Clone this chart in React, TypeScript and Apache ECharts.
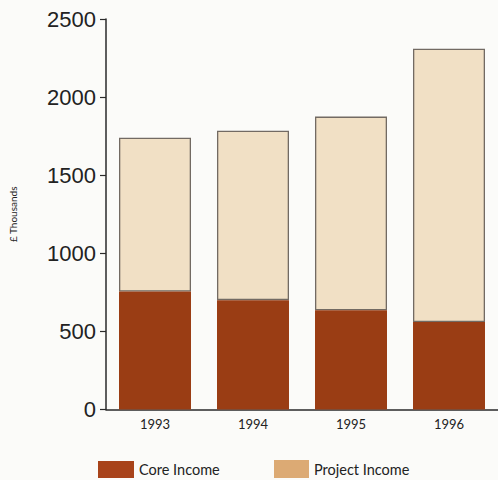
import React, { useEffect, useRef } from "react";
import * as echarts from "echarts";

const years = ["1993", "1994", "1995", "1996"];
const coreIncome = [755, 700, 635, 560];
const projectIncome = [985, 1085, 1240, 1750];
const yTicks = [0, 500, 1000, 1500, 2000, 2500];

export default function App() {
  const ref = useRef<HTMLDivElement>(null);
  useEffect(() => {
    if (!ref.current) return;
    const chart = echarts.init(ref.current, undefined, { renderer: "svg" });
    const coreColor = "#9a3d14";
    const projColor = "#f1e0c5";
    const border = "#726a63";
    chart.setOption({
      animation: false,
      backgroundColor: "#fbfbf9",
      grid: { left: 103, right: 0, top: 19, bottom: 70.5, containLabel: false },
      legend: [
        {
          left: 98,
          top: 461,
          padding: 0,
          icon: "rect",
          itemWidth: 36,
          itemHeight: 17,
          itemGap: 5,
          textStyle: { fontFamily: "Lato", fontSize: 14.5, color: "#222" },
          data: [{ name: "Core Income", itemStyle: { color: "#a8431a", borderWidth: 0 } }],
        },
        {
          left: 274,
          top: 460,
          padding: 0,
          icon: "rect",
          itemWidth: 35,
          itemHeight: 18,
          textStyle: { fontFamily: "Lato", fontSize: 14.5, color: "#222" },
          data: [{ name: "Project Income", itemStyle: { color: "#dcaa74", borderWidth: 0 } }],
        },
      ],
      xAxis: {
        type: "category",
        data: years,
        boundaryGap: true,
        axisLine: { lineStyle: { color: "#2a2a2a", width: 1.5 } },
        axisTick: { inside: true, length: 8, lineStyle: { color: "#2a2a2a", width: 1 } },
        axisLabel: { fontFamily: "Lato", fontSize: 13, color: "#222", margin: 8 },
      },
      yAxis: {
        type: "value",
        min: yTicks[0],
        max: yTicks[yTicks.length - 1],
        interval: 500,
        name: "£ Thousands",
        nameLocation: "middle",
        nameRotate: 90,
        nameGap: 88,
        nameTextStyle: { fontFamily: "Lato", fontSize: 10, color: "#222" },
        axisLine: { show: true, lineStyle: { color: "#2a2a2a", width: 1.5 } },
        axisTick: { show: true, inside: false, length: 6, lineStyle: { color: "#2a2a2a", width: 1.2 } },
        splitLine: { show: false },
        axisLabel: {
          fontFamily: "Liberation Sans",
          fontSize: 22,
          color: "#222",
          margin: 10,
          formatter: (v: number) => String(v),
        },
      },
      series: [
        {
          name: "Core Income",
          type: "bar",
          stack: "total",
          barWidth: 72,
          z: 3,
          data: coreIncome,
          itemStyle: { color: coreColor, borderWidth: 0 },
        },
        {
          name: "Project Income",
          type: "bar",
          stack: "total",
          barWidth: 72,
          z: 2,
          data: projectIncome,
          itemStyle: { color: projColor, borderColor: border, borderWidth: 1.3 },
        },
      ],
    });
    return () => chart.dispose();
  }, []);
  return (
    <div
      ref={ref}
      style={{ position: "fixed", left: 0, top: 0, width: 498, height: 480 }}
    />
  );
}
